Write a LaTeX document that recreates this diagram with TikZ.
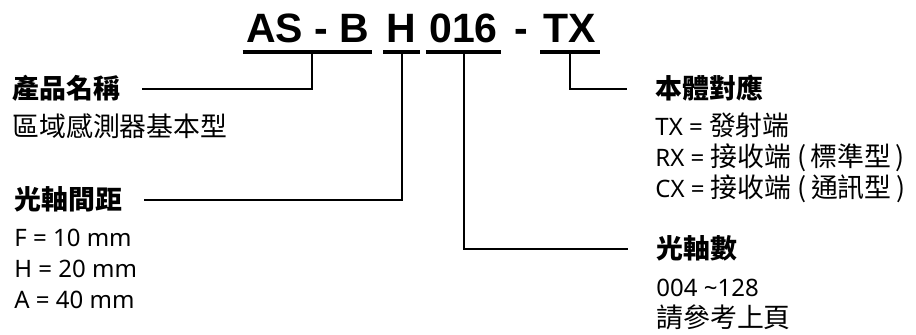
\documentclass[tikz,border=0pt]{standalone}
\usepackage{fontspec}
\setmainfont{Noto Sans}
\newfontfamily\cjk[Scale=1.12]{Noto Sans CJK TC}
\newfontfamily\codefont{Liberation Sans}
\usetikzlibrary{positioning}
\tikzset{
  code/.style={font=\fontsize{20.5}{24}\selectfont\codefont\bfseries,anchor=base,inner sep=0pt},
  head/.style={font=\fontsize{12}{15}\selectfont\cjk\bfseries,anchor=base west,inner sep=0pt},
  item/.style={font=\fontsize{12}{15}\selectfont,anchor=base west,inner sep=0pt},
  uline/.style={line width=1.8pt},
  conn/.style={line width=1pt},
}

\begin{document}
\begin{tikzpicture}[x=0.5pt,y=-0.5pt]
  \useasboundingbox (0,0) rectangle (916,335);

  % model code
  \node[code] (asb)  at (307.5,43) {AS - B};
  \node[code] (axh)  at (401.5,43) {H};
  \node[code] (axn)  at (463.5,43) {016};
  \node[code] (dash) at (521.5,43) {-};
  \node[code] (body) at (570,43)   {TX};
  \coordinate (ul) at (0,52);
  \foreach \n in {asb,axh,axn,body}
    \draw[uline] ([xshift=-1.5pt]\n.west |- ul) -- ([xshift=1.5pt]\n.east |- ul);

  % left side
  \node[head] (hname)  at (12,99)  {產品名稱};
  \node[item] (tname)  at (12,137) {\cjk 區域感測器基本型};
  \node[head] (hpitch) at (14,210) {光軸間距};
  \foreach \t [count=\i] in {F = 10 mm, H = 20 mm, A = 40 mm}
    \node[item] (pitch\i) at (14,{216+31*\i}) {\t};

  % right side
  \node[head] (hbody) at (655,99) {本體對應};
  \node[item] (body1) at (655,136) {TX = {\cjk 發射端}};
  \node[item] (body2) at (655,167) {RX = {\cjk 接收端 (\,標準型\,)}};
  \node[item] (body3) at (655,198) {CX = {\cjk 接收端 (\,通訊型\,)}};
  \node[head] (hcount) at (656,259) {光軸數};
  \node[item] (count1) at (656,297) {004 \textasciitilde128};
  \node[item] (count2) at (656,328) {\cjk 請參考上頁};

  % connectors
  \draw[conn] ([xshift=2pt]asb.south |- ul) |- ([xshift=11pt]hname.east);
  \draw[conn] (axh.south |- ul) |- ([xshift=11pt]hpitch.east);
  \draw[conn] (axn.south |- ul) |- ([xshift=-14pt]hcount.west);
  \draw[conn] (body.south |- ul) |- ([xshift=-14pt]hbody.west);
\end{tikzpicture}
\end{document}
